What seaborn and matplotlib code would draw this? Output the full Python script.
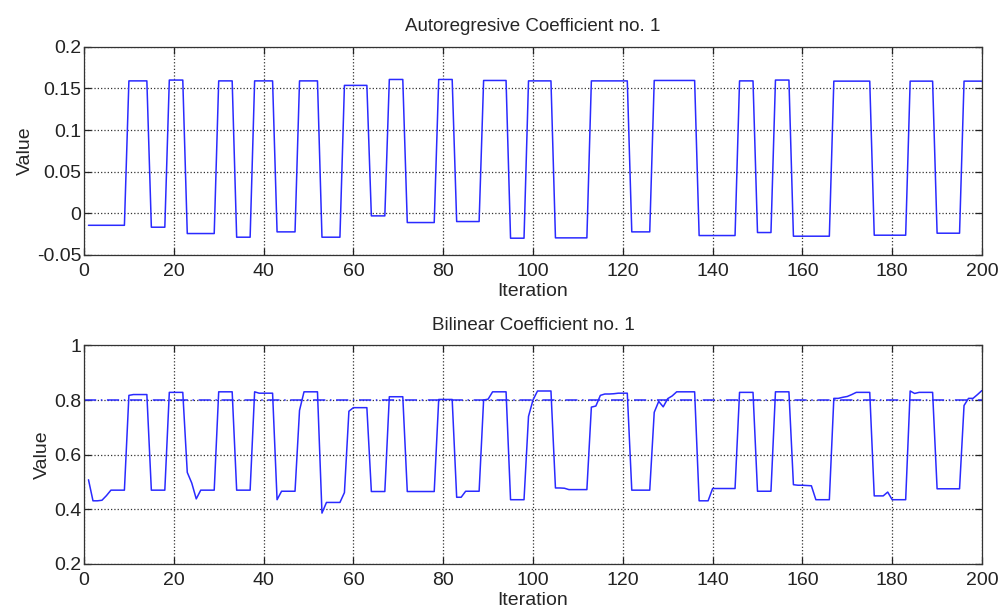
import matplotlib
matplotlib.use("Agg")
import matplotlib.pyplot as plt
import seaborn as sns
import pandas as pd
import numpy as np

# Autoregressive coefficient: piecewise-constant regimes (level, run length)
ar_levels = [-0.0144, 0.159, -0.0167, 0.160, -0.0243, 0.159, -0.0287, 0.159,
             -0.0223, 0.159, -0.0287, 0.1536, -0.0031, 0.1607, -0.0111, 0.1607,
             -0.0099, 0.1595, -0.0299, 0.159, -0.0295, 0.159, -0.0223, 0.1595,
             -0.0267, 0.159, -0.0231, 0.160, -0.0275, 0.1587, -0.0263, 0.1587,
             -0.0239, 0.1587]
ar_lengths = [9, 5, 4, 4, 7, 4, 4, 5, 5, 5, 5, 6, 4, 4, 7, 4,
              6, 6, 4, 6, 8, 9, 5, 10, 9, 4, 4, 4, 9, 9, 8, 6, 6, 5]

# Bilinear coefficient, iterations 1..200
bl_values = [
    0.508, 0.431, 0.431, 0.433, 0.450, 0.470, 0.470, 0.470, 0.470, 0.817,   # 1-10
    0.820, 0.820, 0.820, 0.820, 0.470, 0.470, 0.470, 0.470, 0.828, 0.828,   # 11-20
    0.828, 0.828, 0.535, 0.496, 0.438, 0.470, 0.470, 0.470, 0.470, 0.830,   # 21-30
    0.830, 0.830, 0.830, 0.470, 0.470, 0.470, 0.470, 0.830, 0.825, 0.825,   # 31-40
    0.825, 0.825, 0.435, 0.466, 0.466, 0.466, 0.466, 0.762, 0.830, 0.830,   # 41-50
    0.830, 0.830, 0.386, 0.425, 0.425, 0.425, 0.425, 0.461, 0.759, 0.772,   # 51-60
    0.772, 0.772, 0.772, 0.465, 0.465, 0.465, 0.465, 0.812, 0.812, 0.812,   # 61-70
    0.812, 0.465, 0.465, 0.465, 0.465, 0.465, 0.465, 0.465, 0.802, 0.802,   # 71-80
    0.802, 0.802, 0.444, 0.444, 0.466, 0.466, 0.466, 0.466, 0.800, 0.803,   # 81-90
    0.830, 0.830, 0.830, 0.830, 0.435, 0.435, 0.435, 0.435, 0.740, 0.800,   # 91-100
    0.833, 0.833, 0.833, 0.833, 0.478, 0.478, 0.477, 0.472, 0.472, 0.472,   # 101-110
    0.472, 0.472, 0.774, 0.778, 0.817, 0.822, 0.822, 0.823, 0.825, 0.825,   # 111-120
    0.825, 0.470, 0.470, 0.470, 0.470, 0.470, 0.755, 0.795, 0.775, 0.805,   # 121-130
    0.815, 0.830, 0.830, 0.830, 0.830, 0.830, 0.431, 0.431, 0.431, 0.476,   # 131-140
    0.476, 0.476, 0.476, 0.476, 0.476, 0.828, 0.828, 0.828, 0.828, 0.466,   # 141-150
    0.466, 0.466, 0.466, 0.830, 0.830, 0.830, 0.830, 0.490, 0.488, 0.488,   # 151-160
    0.487, 0.486, 0.435, 0.435, 0.435, 0.435, 0.806, 0.806, 0.810, 0.813,   # 161-170
    0.820, 0.828, 0.828, 0.828, 0.828, 0.449, 0.449, 0.449, 0.463, 0.435,   # 171-180
    0.435, 0.435, 0.435, 0.833, 0.824, 0.828, 0.828, 0.828, 0.828, 0.475,   # 181-190
    0.475, 0.475, 0.475, 0.475, 0.475, 0.780, 0.806, 0.806, 0.820, 0.835,   # 191-200
]
bl_reference = 0.8

iterations = np.arange(1, 201)
df = pd.DataFrame({
    "Iteration": iterations,
    "ar": np.repeat(ar_levels, ar_lengths),
    "bl": bl_values,
})

sns.set_style("ticks")
plt.rcParams["font.family"] = ["Liberation Sans", "DejaVu Sans"]

fig = plt.figure(figsize=(10, 6.07), dpi=100)
ax1 = fig.add_axes([0.084, 0.580, 0.898, 0.343])
ax2 = fig.add_axes([0.084, 0.071, 0.898, 0.360])

blue = "#2a2aff"

sns.lineplot(data=df, x="Iteration", y="ar", ax=ax1, color=blue, linewidth=1.1)
sns.lineplot(data=df, x="Iteration", y="bl", ax=ax2, color=blue, linewidth=1.1)
ax2.axhline(bl_reference, color=blue, linestyle="-.", linewidth=1.1, dashes=(8, 3, 1, 3))

ax1.set_ylim(-0.05, 0.2)
ax1.set_yticks([-0.05, 0, 0.05, 0.1, 0.15, 0.2])
ax1.set_yticklabels(["-0.05", "0", "0.05", "0.1", "0.15", "0.2"])
ax2.set_ylim(0.2, 1.0)
ax2.set_yticks([0.2, 0.4, 0.6, 0.8, 1.0])
ax2.set_yticklabels(["0.2", "0.4", "0.6", "0.8", "1"])

titles = ["Autoregresive Coefficient no. 1", "Bilinear Coefficient no. 1"]
for ax, title in zip([ax1, ax2], titles):
    ax.set_xlim(0, 200)
    ax.set_xticks(range(0, 201, 20))
    ax.grid(True, linestyle=":", color="#333333", linewidth=0.9)
    ax.set_title(title, fontsize=13.5, pad=11)
    ax.set_xlabel("Iteration", fontsize=14, labelpad=2)
    ax.set_ylabel("Value", fontsize=14, labelpad=2)
    ax.tick_params(direction="in", top=True, right=True, labelsize=14,
                   length=5, width=0.9, colors="#222222")
    ax.tick_params(axis="y", pad=2)
    ax.tick_params(axis="x", pad=6)
    for s in ax.spines.values():
        s.set_visible(True)
        s.set_color("#333333")
        s.set_linewidth(0.9)

fig.savefig("out.png", dpi=100)
